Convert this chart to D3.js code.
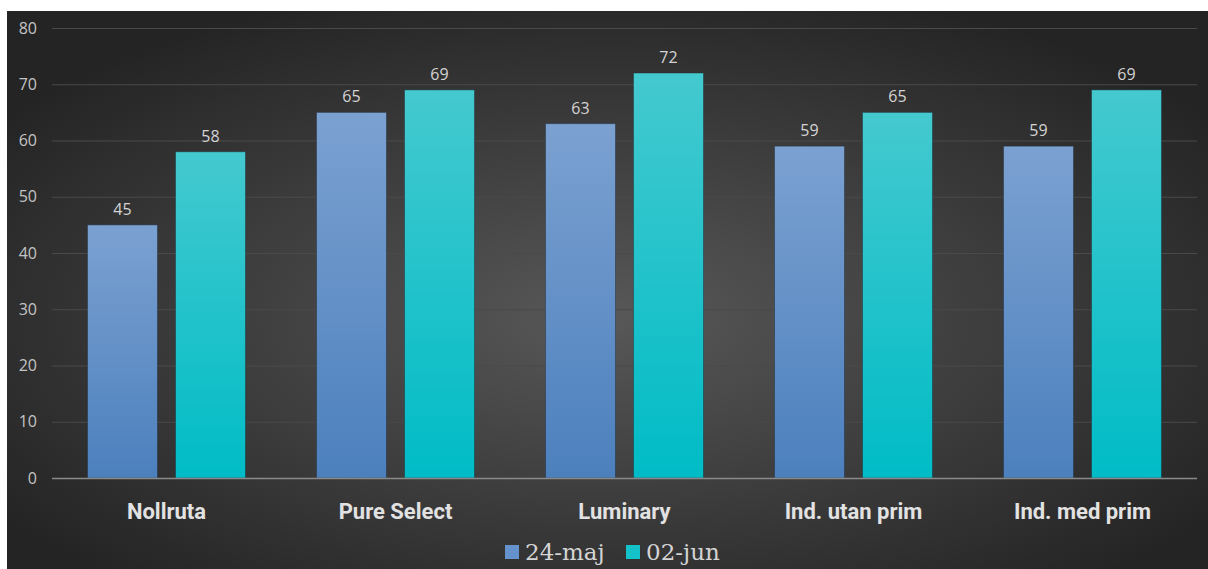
<!DOCTYPE html>
<html><head><meta charset="utf-8">
<script src="https://cdn.jsdelivr.net/npm/d3@7"></script>
<style>html,body{margin:0;padding:0;background:#fff;}svg{display:block;}</style>
</head><body>
<svg id="chart" width="1208" height="569"></svg>
<script>
const categories = ["Nollruta", "Pure Select", "Luminary", "Ind. utan prim", "Ind. med prim"];
const seriesNames = ["24-maj", "02-jun"];
const valuesMaj = [45, 65, 63, 59, 59];
const valuesJun = [58, 69, 72, 65, 69];
const yTicks = [0, 10, 20, 30, 40, 50, 60, 70, 80];

const svg = d3.select("#chart");
const W = 1208, H = 569;
const defs = svg.append("defs");
const bg = defs.append("radialGradient").attr("id","bg").attr("cx","50%").attr("cy","55%").attr("r","62%");
bg.append("stop").attr("offset","0%").attr("stop-color","#585858");
bg.append("stop").attr("offset","100%").attr("stop-color","#242424");
const g1 = defs.append("linearGradient").attr("id","gBlue").attr("x1",0).attr("x2",0).attr("y1",0).attr("y2",1);
g1.append("stop").attr("offset","0%").attr("stop-color","#7ba1d1");
g1.append("stop").attr("offset","100%").attr("stop-color","#4c80bd");
const g2 = defs.append("linearGradient").attr("id","gTeal").attr("x1",0).attr("x2",0).attr("y1",0).attr("y2",1);
g2.append("stop").attr("offset","0%").attr("stop-color","#44c9cf");
g2.append("stop").attr("offset","100%").attr("stop-color","#00bcc6");
const fills = ["url(#gBlue)", "url(#gTeal)"];
const legendColors = ["#6592cc", "#14c2ca"];

svg.append("rect").attr("x",7).attr("y",11).attr("width",W-7).attr("height",H-11).attr("fill","url(#bg)");

const pLeft = 52, pRight = 1197, pTop = 28, pBottom = 478;
const x = d3.scaleBand().domain(categories).range([pLeft, pRight]).paddingInner(0).paddingOuter(0);
const y = d3.scaleLinear().domain([0, 80]).range([pBottom, pTop]);

// grid
svg.append("g").selectAll("line").data(yTicks.filter(t=>t>0)).join("line")
  .attr("x1", pLeft).attr("x2", pRight).attr("y1", d=>y(d)+0.5).attr("y2", d=>y(d)+0.5)
  .attr("stroke","#4a4a4a").attr("stroke-width",1);

// y axis labels
const yAxis = d3.axisLeft(y).tickValues(yTicks).tickSize(0).tickPadding(0);
const ya = svg.append("g").attr("transform",`translate(37,0)`).call(yAxis);
ya.select(".domain").remove();
ya.selectAll("text").attr("fill","#c4c4c4").style("font-family","'Open Sans', sans-serif").style("font-size","16px");

// bars
const groupW = 158;
const x1 = d3.scaleBand().domain([0,1]).range([0, groupW]).paddingInner(18/88).paddingOuter(0);
const data = categories.map((c,i)=>({c, v:[valuesMaj[i], valuesJun[i]]}));
const grp = svg.append("g").selectAll("g").data(data).join("g")
  .attr("transform", d=>`translate(${x(d.c) + (x.bandwidth()-groupW)/2},0)`);
grp.selectAll("rect").data(d=>d.v.map((v,k)=>({v,k}))).join("rect")
  .attr("x", d=>x1(d.k)).attr("width", x1.bandwidth())
  .attr("y", d=>y(d.v)).attr("height", d=>pBottom - y(d.v))
  .attr("fill", d=>fills[d.k]).attr("stroke","rgba(30,40,50,0.45)").attr("stroke-width",1);
grp.selectAll("text").data(d=>d.v.map((v,k)=>({v,k}))).join("text")
  .attr("x", d=>x1(d.k)+x1.bandwidth()/2).attr("y", d=>y(d.v)-10)
  .attr("text-anchor","middle").attr("fill","#d4d4d4")
  .style("font-family","'Open Sans', sans-serif").style("font-size","16px")
  .text(d=>d.v);

// zero line
svg.append("line").attr("x1",pLeft).attr("x2",pRight).attr("y1",pBottom+0.5).attr("y2",pBottom+0.5)
  .attr("stroke","#8a8a8a").attr("stroke-width",1.5);

// x axis labels
const xAxis = d3.axisBottom(x).tickSize(0).tickPadding(0);
const xa = svg.append("g").attr("transform",`translate(0,${pBottom+41})`).call(xAxis);
xa.select(".domain").remove();
xa.selectAll("text").attr("fill","#e2e2e2").attr("dy",0)
  .style("font-family","Roboto, sans-serif").style("font-weight","bold").style("font-size","22px");

// legend
const legX = [505, 626];
const leg = svg.append("g").selectAll("g").data(seriesNames).join("g")
  .attr("transform",(d,i)=>`translate(${legX[i]},545)`);
leg.append("rect").attr("width",14).attr("height",14).attr("fill",(d,i)=>legendColors[i]);
leg.append("text").attr("x",20).attr("y",15).attr("fill","#d4d4d4")
  .style("font-family","'DejaVu Serif', serif").style("font-size","23px").style("font-weight","300")
  .text(d=>d);
</script>
</body></html>
